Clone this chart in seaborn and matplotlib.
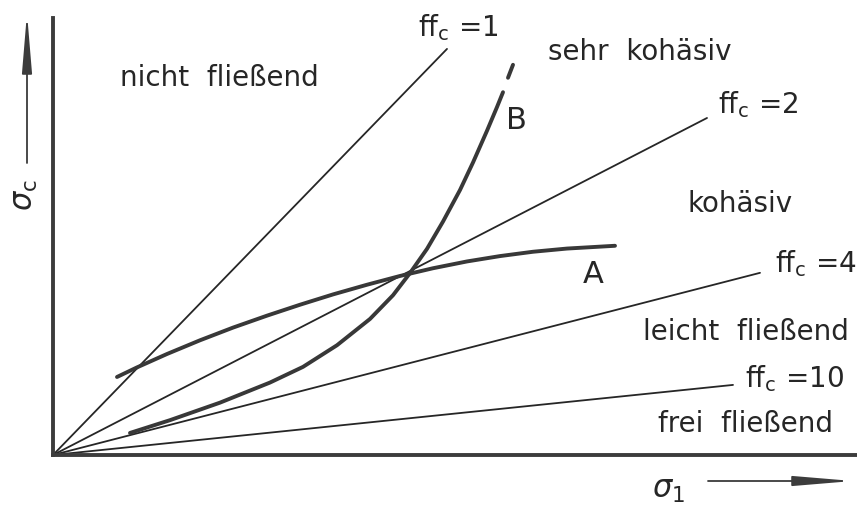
import numpy as np
import pandas as pd
import matplotlib
matplotlib.use("Agg")
import matplotlib.pyplot as plt
import seaborn as sns

# Flow-function lines sigma_c = sigma_1 / ff_c, with the sigma_1 where each line stops
ffc_values = [1, 2, 4, 10]
ffc_line_end = [3.94, 6.54, 7.07, 6.80]

# Flow curve A (sigma_1, sigma_c)
curve_a_s1 = [0.64, 0.84, 1.14, 1.47, 1.80, 2.14, 2.47, 2.80, 3.14, 3.47, 3.80,
              4.14, 4.47, 4.80, 5.14, 5.62]
curve_a_sc = [0.757, 0.850, 0.980, 1.113, 1.236, 1.352, 1.458, 1.558, 1.652, 1.737,
              1.812, 1.878, 1.930, 1.972, 2.003, 2.030]

# Flow curve B (sigma_1, sigma_c) and its dashed continuation
curve_b_s1 = [0.77, 1.17, 1.67, 2.17, 2.50, 2.84, 3.17, 3.40, 3.57, 3.74, 3.90,
              4.07, 4.20, 4.34, 4.44, 4.50]
curve_b_sc = [0.214, 0.338, 0.508, 0.703, 0.855, 1.065, 1.320, 1.550, 1.765, 2.000,
              2.265, 2.571, 2.838, 3.146, 3.376, 3.520]
curve_b_ext_s1 = [4.55, 4.60]
curve_b_ext_sc = [3.660, 3.786]

# Region names and their anchor points (sigma_1, sigma_c)
region_names = ["nicht  fließend", "sehr  kohäsiv", "kohäsiv", "leicht  fließend", "frei  fließend"]
region_pos = [(0.67, 3.58), (4.95, 3.83), (6.34, 2.36), (5.90, 1.12), (6.05, 0.22)]

sns.set_theme(style="white")
plt.rcParams["font.family"] = ["DejaVu Sans"]
plt.rcParams["mathtext.fontset"] = "dejavusans"

ink = "#262626"
curve_ink = "#383838"
fig = plt.figure(figsize=(8.57, 5.07), dpi=100)
ax = fig.add_axes([53 / 857, 52 / 507, 804 / 857, 437 / 507])
ax.set_xlim(0, 8.04)
ax.set_ylim(0, 4.24)

for ffc, xe in zip(ffc_values, ffc_line_end):
    df = pd.DataFrame({"s1": [0.0, xe], "sc": [0.0, xe / ffc]})
    sns.lineplot(data=df, x="s1", y="sc", ax=ax, color=ink, lw=1.3, sort=False)

curve_style = dict(color=curve_ink, lw=2.8, sort=False, solid_capstyle="round",
                   solid_joinstyle="round")
sns.lineplot(x=curve_a_s1, y=curve_a_sc, ax=ax, **curve_style)
sns.lineplot(x=curve_b_s1, y=curve_b_sc, ax=ax, **curve_style)
sns.lineplot(x=curve_b_ext_s1, y=curve_b_ext_sc, ax=ax, **curve_style)

fs = 20
for name, (x, y) in zip(region_names, region_pos):
    ax.text(x, y, name, fontsize=fs, color=ink, ha="left", va="baseline")

ffc_label_pos = [(3.65, 4.06), (6.65, 3.32), (7.22, 1.77), (6.92, 0.66)]
for ffc, (x, y) in zip(ffc_values, ffc_label_pos):
    ax.text(x, y, r"ff$_{\mathregular{c}}$ =" + str(ffc), fontsize=fs, color=ink,
            ha="left", va="baseline")

ax.text(5.40, 1.67, "A", fontsize=22, color=ink, ha="center", va="baseline")
ax.text(4.63, 3.16, "B", fontsize=22, color=ink, ha="center", va="baseline")

ax.set_xticks([])
ax.set_yticks([])
ax.set_xlabel("")
ax.set_ylabel("")
for side in ["top", "right"]:
    ax.spines[side].set_visible(False)
for side in ["left", "bottom"]:
    ax.spines[side].set_linewidth(2.8)
    ax.spines[side].set_color("#3c3c3c")

# axis names with arrows
fig.text(668 / 857, 1 - 490 / 507, r"$\sigma_1$", fontsize=22, color=ink, ha="center", va="center")
fig.text(25 / 857, 1 - 195 / 507, r"$\sigma_\mathregular{c}$", fontsize=22, color=ink,
         ha="center", va="center", rotation=90)
arrow_style = dict(arrowstyle="-|>,head_length=3.6,head_width=0.3", color="#3c3c3c",
                   lw=1.3, mutation_scale=10, shrinkA=0, shrinkB=0)
fig.add_artist(matplotlib.patches.FancyArrowPatch(
    (708 / 857, 1 - 481 / 507), (853 / 857, 1 - 481 / 507),
    transform=fig.transFigure, **arrow_style))
fig.add_artist(matplotlib.patches.FancyArrowPatch(
    (27 / 857, 1 - 163 / 507), (27 / 857, 1 - 13 / 507),
    transform=fig.transFigure, **arrow_style))

fig.savefig("out.png", dpi=100, facecolor="white")
